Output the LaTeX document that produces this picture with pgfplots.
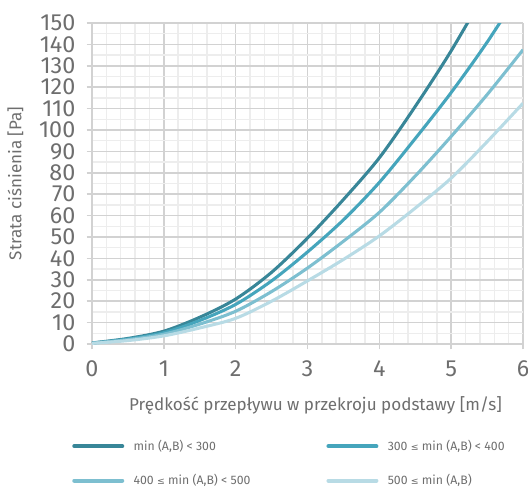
\documentclass[border=0pt]{standalone}
\usepackage{pgfplots}
\pgfplotsset{compat=1.18}
\usepackage{fontspec}
\setmainfont{Fira Sans}
\newfontfamily\symf{DejaVu Sans}
\definecolor{cA}{HTML}{388698}
\definecolor{cB}{HTML}{45A5BC}
\definecolor{cC}{HTML}{7DBFD0}
\definecolor{cD}{HTML}{B8DBE5}
\definecolor{txt}{HTML}{6E6E6E}
\definecolor{gmaj}{HTML}{D2D2D2}
\definecolor{gmin}{HTML}{EDEDED}
\newcommand{\lesym}{{\symf\fontsize{7}{7}\selectfont ≤}}
\begin{document}
\begin{tikzpicture}[x=0.75pt,y=0.75pt]
\useasboundingbox (-92,-142) rectangle (436,344);
\begin{axis}[
  at={(0,0)}, anchor=south west,
  scale only axis, width=323.25pt, height=240.75pt,
  xmin=0, xmax=6, ymin=0, ymax=150,
  xtick={0,...,6}, ytick={0,10,...,150},
  minor x tick num=4, minor y tick num=1,
  grid=both,
  major grid style={gmaj, line width=1.1pt},
  minor grid style={gmin, line width=1.1pt},
  axis x line*=bottom, axis y line*=left,
  axis line style={gmaj, line width=1.1pt, -},
  tick align=outside, major tick length=4pt, minor tick length=0pt,
  tick style={gmaj, line width=1.1pt},
  /pgf/number format/assume math mode=true,
  ticklabel style={font=\fontsize{17.5}{17.5}\selectfont, text=txt},
  xticklabel style={yshift=-5pt},
  yticklabel style={xshift=-5pt, inner ysep=0pt},
  xlabel={Prędkość przepływu w przekroju podstawy [m/s]},
  ylabel={Strata ciśnienia [Pa]},
  label style={font=\fontsize{12.8}{12.8}\selectfont, text=txt},
  xlabel style={yshift=-8pt, xshift=6pt},
  ylabel style={yshift=5pt},
  legend columns=2,
  legend style={at={(-0.0557,-0.372)}, anchor=west, draw=none, fill=none,
    font=\fontsize{9.2}{9.2}\selectfont, text=txt, row sep=12.5pt,
    /tikz/every odd column/.append style={column sep=5pt},
    /tikz/column 2/.style={column sep=55pt}},
  legend cell align=left,
  legend image code/.code={\draw[#1, line width=3pt, line cap=round] (0pt,0pt) -- (36pt,0pt);},
  every axis plot/.append style={line width=2.3pt, smooth, no marks},
]
\addplot[cA] coordinates {(0,0.5)(0.5,2.6)(1,6)(1.5,12.5)(2,21)(2.5,33.5)(3,49.5)(3.5,67.5)(4,87)(4.5,111)(5,137)(5.5,166)};
\addlegendentry{min (A,B) < 300}
\addplot[cB] coordinates {(0,0.4)(0.5,2.3)(1,5.3)(1.5,11)(2,18.5)(2.5,29.5)(3,43)(3.5,58)(4,75.5)(4.5,96)(5,117.5)(5.5,141)(6,167)};
\addlegendentry{300 \lesym{} min (A,B) < 400}
\addplot[cC] coordinates {(0,0.4)(0.5,2)(1,4.6)(1.5,9.3)(2,15.3)(2.5,24.5)(3,35.5)(3.5,48)(4,61.5)(4.5,78.5)(5,97)(5.5,116.5)(6,137.5)};
\addlegendentry{400 \lesym{} min (A,B) < 500}
\addplot[cD] coordinates {(0,0.3)(0.5,1.6)(1,3.8)(1.5,7.5)(2,12)(2.5,20)(3,29.5)(3.5,39.5)(4,50.5)(4.5,63.5)(5,77.5)(5.5,94.5)(6,112.5)};
\addlegendentry{500 \lesym{} min (A,B)}
\end{axis}
\end{tikzpicture}
\end{document}
